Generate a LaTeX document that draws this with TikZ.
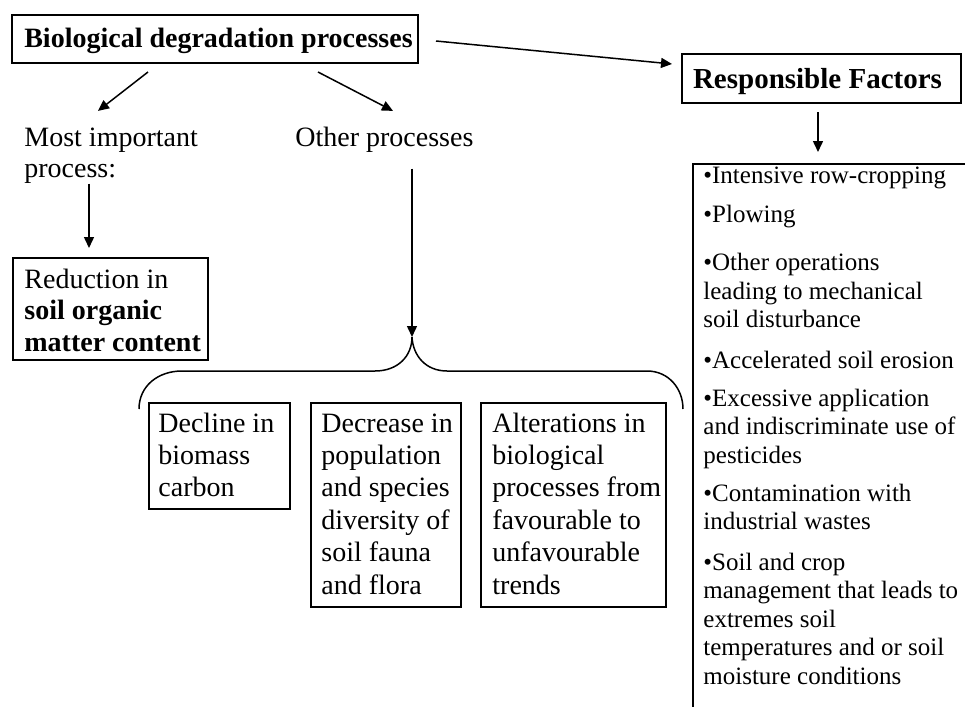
\documentclass[tikz,border=0pt]{standalone}
\usepackage{fontspec}
\setmainfont{Liberation Serif}
\usetikzlibrary{arrows.meta,calc}

% multi-line text whose reference point is the first baseline
\newcommand{\textlines}[1]{\begin{tabular}[t]{@{}l@{}}#1\end{tabular}}

\tikzset{
  box/.style={draw, line width=1pt, inner sep=0pt, anchor=north west},
  lbl/.style={inner sep=0pt, anchor=base west},
  arr/.style={line width=0.75pt, -{Triangle[length=5.5pt,width=5pt]}},
  head/.style={inner sep=0pt, anchor=base, font=\fontsize{14}{16}\selectfont\bfseries},
  big/.style={font=\fontsize{14}{15.5}\selectfont},
  mid/.style={font=\fontsize{14}{16.2}\selectfont},
  small/.style={font=\fontsize{12.5}{14.25}\selectfont},
}

\begin{document}
\begin{tikzpicture}[x=0.5pt,y=-0.5pt]
\useasboundingbox (0,0) rectangle (965,707);

% headings
\node[box, anchor=center, minimum width=203pt, minimum height=24pt] (top) at (215,39) {};
\node[head] (toptext) at (218.5,47) {Biological degradation processes};
\node[box, anchor=center, minimum width=139.5pt, minimum height=24.5pt] (resp) at (821.5,78.5) {};
\node[head, font=\fontsize{14.5}{16}\selectfont\bfseries] (resptext) at (817.5,88) {Responsible Factors};

% second row labels
\node[lbl, big] (mip) at (24,146) {\textlines{Most important\\process:}};
\node[lbl, big] (other) at (295,146) {\textlines{Other processes}};

% organic matter box
\node[box, minimum width=97.5pt, minimum height=51pt] (redbox) at (12,257) {};
\node[lbl, font=\fontsize{14}{15.75}\selectfont] (redtext) at (24,288)
  {\textlines{Reduction in\\\textbf{soil organic}\\\textbf{matter content}}};

% the three other processes
\node[box, minimum width=70.5pt, minimum height=53pt] (b1) at (148,402) {};
\node[box, minimum width=75pt, minimum height=102pt] (b2) at (310,402) {};
\node[box, minimum width=92.5pt, minimum height=102pt] (b3) at (480,402) {};
\node[lbl, mid] (t1) at (158,432) {\textlines{Decline in\\biomass\\carbon}};
\node[lbl, mid] (t2) at (321,432) {\textlines{Decrease in\\population\\and species\\diversity of\\soil fauna\\and flora}};
\node[lbl, mid] (t3) at (492,432) {\textlines{Alterations in\\biological\\processes from\\favourable to\\unfavourable\\trends}};

% list of factors (box runs past the page edge)
\node[box, minimum width=144pt, minimum height=278.5pt] (factors) at (692,163) {};
\node[lbl, small] (f1) at (703,183)   {\textlines{•Intensive row-cropping}};
\node[lbl, small] (f2) at (703,222)   {\textlines{•Plowing}};
\node[lbl, small] (f3) at (703,270.5) {\textlines{•Other operations\\leading to mechanical\\soil disturbance}};
\node[lbl, small] (f4) at (703,368.5) {\textlines{•Accelerated soil erosion}};
\node[lbl, small] (f5) at (703,406)   {\textlines{•Excessive application\\and indiscriminate use of\\pesticides}};
\node[lbl, small] (f6) at (703,501)   {\textlines{•Contamination with\\industrial wastes}};
\node[lbl, small] (f7) at (703,570)   {\textlines{•Soil and crop\\management that leads to\\extremes soil\\temperatures and or soil\\moisture conditions}};

% curly brace over the three boxes
\coordinate (bracetip) at (412,337);
\draw[line width=0.75pt] (139,409) .. controls (139,386) and (158,371) .. (182,371)
  -- (375,371) .. controls (398,371) and (412,356) .. (bracetip)
  .. controls (413,356) and (426,371) .. (447,371)
  -- (647,371) .. controls (669,371) and (683,389) .. (683,409);

% connectors
\draw[arr] ($(top.east)+(17,2)$) -- ($(resp.west)+(-9,-14.5)$);
\draw[arr] ($(top.south)+(-67,8)$) -- ($(mip.north west)+(74,-13)$);
\draw[arr] ($(top.south)+(103,8)$) -- ($(other.north west)+(98,-13)$);
\draw[arr] ($(mip.south west)+(65,-3)$) -- ($(redbox.north west)+(77,-9)$);
\draw[arr] ($(bracetip|-other.south)+(0,13)$) -- (bracetip);
\draw[arr] ($(resp.south)+(-3.5,8)$) -- ($(factors.north west)+(126,-11)$);
\end{tikzpicture}
\end{document}
